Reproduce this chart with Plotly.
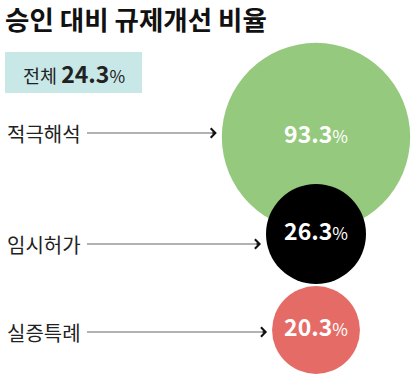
import plotly.graph_objects as go
import numpy as np

# ---- data ----
title = "승인 대비 규제개선 비율"
total_label = "전체"
total_value = 24.3
categories = ["적극해석", "임시허가", "실증특례"]
values = [93.3, 26.3, 20.3]
colors = ["#95c97e", "#000000", "#e56c66"]

# ---- layout constants ----
W, H = 413, 378
FONT = "Noto Sans CJK KR"
K = 9.75                      # radius px per sqrt(value)
cx = 316
cy = [137, 234, 330]
label_y = [133, 244, 332]
label_x = 5
line_x0 = 87
gap = 5

radii = [K * np.sqrt(v) for v in values]

fig = go.Figure()

fig.add_trace(go.Scatter(
    x=[cx] * len(values), y=cy,
    mode="markers+text",
    marker=dict(size=[2 * r for r in radii], color=colors, line=dict(width=0), opacity=1),
    text=[f"<b>{v:.1f}</b><span style='font-size:17px'>%</span>" for v in values],
    textposition="middle center",
    textfont=dict(family=FONT, size=23, color="white"),
    hoverinfo="skip", showlegend=False,
))

shapes = []
annotations = []

# title
annotations.append(dict(x=3, y=18, xref="x", yref="y", text=f"<b>{title}</b>",
                        showarrow=False, xanchor="left", yanchor="middle",
                        font=dict(family=FONT, size=26.5, color="#111111")))

# total box
shapes.append(dict(type="rect", x0=5, x1=142, y0=52, y1=93, xref="x", yref="y",
                   fillcolor="#c8e7e7", line=dict(width=0), layer="below"))
annotations.append(dict(x=73.5, y=73, xref="x", yref="y",
                        text=f"{total_label} <b><span style='font-size:23px'>{total_value:.1f}</span></b><span style='font-size:17px'>%</span>",
                        showarrow=False, xanchor="center", yanchor="middle",
                        font=dict(family=FONT, size=18.5, color="#222222")))

for cat, ly, r in zip(categories, label_y, radii):
    tip = cx - r - gap
    annotations.append(dict(x=label_x, y=ly, xref="x", yref="y", text=cat,
                            showarrow=False, xanchor="left", yanchor="middle",
                            font=dict(family=FONT, size=20, color="#222222")))
    shapes.append(dict(type="line", x0=line_x0, x1=tip - 1, y0=ly, y1=ly,
                       xref="x", yref="y", line=dict(color="#999999", width=1.6)))
    annotations.append(dict(x=tip, y=ly, xref="x", yref="y", text="",
                            showarrow=True, ax=-6, ay=0, axref="pixel", ayref="pixel",
                            arrowhead=4, arrowsize=1.2, arrowwidth=1.5,
                            arrowcolor="#111111", standoff=0))

fig.update_layout(
    width=W, height=H,
    margin=dict(l=0, r=0, t=0, b=0),
    paper_bgcolor="white", plot_bgcolor="white",
    xaxis=dict(range=[0, W], visible=False, fixedrange=True),
    yaxis=dict(range=[H, 0], visible=False, fixedrange=True),
    shapes=shapes, annotations=annotations,
    showlegend=False,
)

fig.write_html("out.html", config={"displayModeBar": False},
               post_script="document.body.style.margin='0';document.body.style.overflow='hidden';")
